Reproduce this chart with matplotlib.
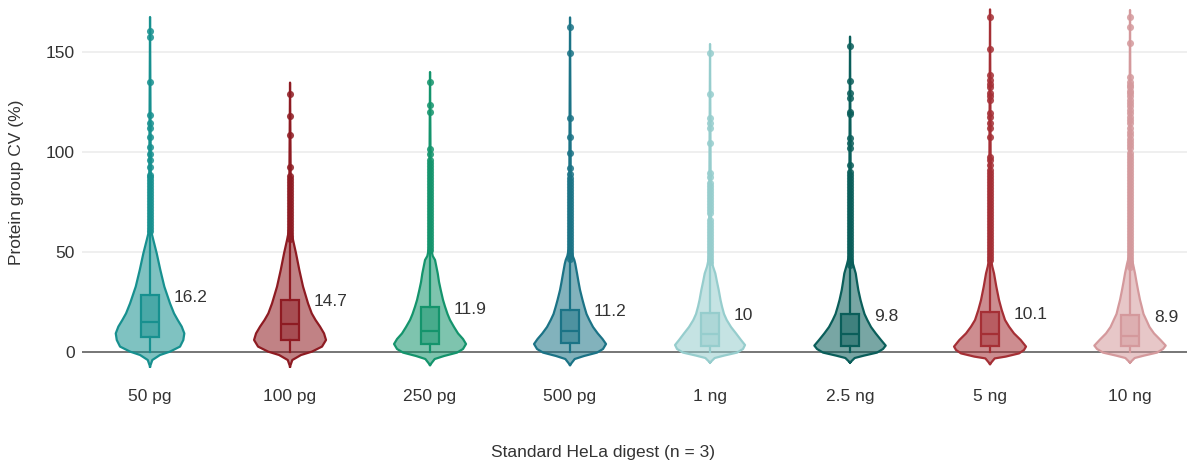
import matplotlib
matplotlib.use("Agg")
import matplotlib.pyplot as plt
import numpy as np
from matplotlib.colors import to_rgba

plt.rcParams['font.family'] = ['Liberation Sans', 'DejaVu Sans']

# categories and per-group summary values
categories = ['50 pg', '100 pg', '250 pg', '500 pg', '1 ng', '2.5 ng', '5 ng', '10 ng']
median_labels = ['16.2', '14.7', '11.9', '11.2', '10', '9.8', '10.1', '8.9']
colors = ['#17908f', '#8e1b22', '#14946c', '#1b7386', '#96cdcd', '#0a5e5a', '#a52f35', '#d4999c']

q1 = [7.5, 6.0, 4.0, 4.3, 3.0, 3.0, 3.2, 3.2]
medians = [15.0, 14.0, 10.5, 10.5, 9.0, 9.0, 9.0, 8.2]
q3 = [28.5, 26.0, 22.3, 21.0, 19.3, 18.8, 19.8, 18.5]
whisker_low = [0.0, 0.0, 0.0, 0.0, 0.0, 0.0, 0.0, 0.0]
whisker_high = [60.0, 56.0, 50.0, 46.0, 44.0, 42.5, 44.7, 41.5]

# violin outline: CV levels and density (arbitrary units) at each level
violin_levels = [
    [-7.3, -4, -1.5, 0.2, 2.7, 6, 9.3, 12.7, 16, 19.3, 24.3, 32.7, 41, 49.3, 56, 59.3, 62, 167.5],
    [-7.3, -4, -1.5, 0.2, 2.7, 6, 9.3, 12.7, 16, 19.3, 24.3, 32.7, 41, 49.3, 56, 59.3, 62, 134.7],
    [-6.5, -3.5, -2.0, -0.3, 1.5, 4.0, 6.5, 9.3, 12.5, 16, 19, 22.7, 26, 31, 35, 39.3, 46, 48, 52, 140],
    [-6.5, -3.5, -2.0, -0.3, 1.5, 4.0, 6.5, 9.3, 12.5, 16, 19, 22.7, 26, 31, 35, 39.3, 44, 46, 48, 52, 167.3],
    [-5.3, -3, -1.8, -0.3, 1.5, 3.5, 6, 9.3, 12.5, 16, 19, 22.7, 26, 31, 35, 39.3, 42.7, 45, 48, 154],
    [-5.3, -3, -1.8, -0.3, 1.5, 3.2, 6, 9.3, 12.5, 16, 19, 22.7, 26, 31, 35, 39.3, 44, 46, 48, 157.7],
    [-6, -3.2, -2.3, -0.7, 1.0, 2.7, 6, 9.3, 12.7, 16, 21, 26, 32.7, 39.3, 42.7, 45, 48, 171.3],
    [-5.3, -3, -1.8, -0.3, 1.5, 3.2, 6, 9.3, 12.5, 16, 19, 22.7, 26, 31, 35, 39.3, 44, 46, 48, 171],
]
violin_density = [
    [0, 2.3, 10, 20, 30, 33.3, 34.3, 31.7, 27.7, 24, 20, 14.3, 10.3, 6.7, 3.3, 1.7, 1, 0],
    [0, 2.3, 11, 22, 32, 36, 34, 30, 25.5, 21.7, 18, 13, 9.3, 6, 3, 1.7, 1, 0],
    [0, 4.7, 14, 27, 33, 36, 33, 28, 24, 20, 17.5, 15, 13, 10.7, 9, 7.7, 5, 2.7, 1, 0],
    [0, 4.7, 14, 27, 33, 36, 32.5, 27.7, 23, 19.3, 16.5, 14.3, 12.5, 10, 8.5, 7, 5.3, 4.3, 2.7, 1, 0],
    [0, 4.7, 14, 27, 33, 35, 31, 26, 21, 16.7, 14, 12, 10.5, 8.7, 7, 5.3, 3, 2, 1, 0],
    [0, 4.7, 14, 27, 33, 35.7, 31, 25.7, 21, 17.3, 14.5, 12.3, 10.5, 8.3, 7, 5.7, 3, 2, 1, 0],
    [0, 4.7, 15.7, 29, 34, 36, 30.7, 24, 19, 15, 11.7, 9, 6.3, 4, 2.3, 1.5, 1, 0],
    [0, 4.7, 14, 27, 33, 35.7, 30.5, 24, 19.5, 16.3, 13.5, 11.7, 10, 8, 6.5, 5, 3, 2, 1, 0],
]

# outlier CV values per group
outliers = [
    [160.5, 157.3, 135, 118.5, 114.7, 111.8, 107.7, 102.7, 99, 96, 92.7, 88.5,
     87.7, 86, 84.5, 83, 81.5, 80, 78.5, 77, 75.5, 74, 72.5, 71, 69.5, 68, 66.5,
     65, 63.5, 62, 60.5],
    [129, 118, 108.5, 92.5, 88, 86.5, 85, 83.5, 82, 80.5, 79, 77.5, 76, 74.5, 73,
     71.5, 70, 68.5, 67, 65.5, 64, 62.5, 61, 59.5, 58, 56.5],
    [135, 123.7, 120, 101.5, 99, 96, 94.5, 93, 91.5, 90, 88.5, 87, 85.5, 84, 82.5,
     81, 79.5, 78, 76.5, 75, 73.5, 72, 70.5, 69, 67.5, 66, 64.5, 63, 61.5, 60,
     58.5, 57, 55.5, 54, 52.5, 51],
    [162.3, 149.7, 117.2, 107.7, 99.3, 92.2, 89, 86.8, 85.5, 84, 82.5, 81, 79.5,
     78, 76.5, 75, 73.5, 72, 70.5, 69, 67.5, 66, 64.5, 63, 61.5, 60, 58.5, 57,
     55.5, 54, 52.5, 51, 49.5, 48, 46.5],
    [149.7, 128.8, 116.8, 114.3, 111.8, 104.7, 89.3, 87.7, 84.3, 83, 81.5, 80,
     78.5, 77, 75.5, 74, 72.5, 71, 69.5, 66, 64.5, 63, 61.5, 60, 58.5, 57, 55.5,
     54, 52.5, 51, 49.5, 48, 46.5, 45],
    [153, 135.5, 129.7, 126.8, 120.2, 119, 106.8, 104.7, 101.8, 93.5, 90.2, 88.5,
     87, 85.5, 84, 82.5, 81, 79.5, 78, 76.5, 75, 73.5, 72, 70.5, 69, 67.5, 66,
     64.5, 63, 61.5, 60, 58.5, 57, 55.5, 54, 52.5, 51, 49.5, 48, 46.5, 45, 43.5],
    [167.3, 151.5, 138.5, 136, 134, 132.3, 129.7, 128, 126, 119.3, 117.3, 114.3,
     111.8, 107.7, 97.7, 96, 93.5, 91, 89.5, 88, 86.5, 85, 83.5, 82, 80.5, 79,
     77.5, 76, 74.5, 73, 71.5, 70, 68.5, 67, 65.5, 64, 62.5, 61, 59.5, 58, 56.5,
     55, 53.5, 52, 50.5, 49, 47.5, 46],
    [167.3, 162.7, 154.3, 137.7, 135, 133.5, 132.3, 130.5, 129.3, 128, 126, 124.5,
     123, 121, 119.5, 117.7, 116, 114.5, 111.8, 110, 108.5, 106.5, 105, 103.5,
     101.8, 99.3, 97.8, 96.3, 94.8, 93.3, 91.8, 90.3, 88.8, 87.3, 85.8, 84.3,
     82.8, 81.3, 79.8, 78.3, 76.8, 75.3, 73.8, 72.3, 70.8, 69.3, 67.8, 66.3,
     64.8, 63.3, 61.8, 60.3, 58.8, 57.3, 55.8, 54.3, 52.8, 51.3, 49.8, 48.3,
     46.8, 45.3, 43.8, 42.3],
]

text_color = '#333333'
half_max = 0.257
dens_max = max(max(d) for d in violin_density)

fig = plt.figure(figsize=(11.87, 4.66), dpi=100)
ax = fig.add_axes([82 / 1187, 94 / 466, 1105 / 1187, 372 / 466])
ax.set_xlim(-0.486, 7.407)
ax.set_ylim(-10, 176)

for y in (50, 100, 150):
    ax.axhline(y, color='#ececec', lw=1.2, zorder=0)
ax.axhline(0, color='#6b6b6b', lw=1.3, zorder=1)

for i, c in enumerate(colors):
    lv = np.array(violin_levels[i])
    hw = np.array(violin_density[i]) / dens_max * half_max
    ax.fill_betweenx(lv, i - hw, i + hw, facecolor=c, alpha=0.55, lw=0, zorder=2)
    ax.plot(np.r_[i - hw, (i + hw)[::-1], i - hw[0]],
            np.r_[lv, lv[::-1], lv[0]],
            color=c, lw=1.6, solid_joinstyle='round', zorder=3)

    stats = [dict(med=medians[i], q1=q1[i], q3=q3[i],
                  whislo=whisker_low[i], whishi=whisker_high[i], fliers=[])]
    ax.bxp(stats, positions=[i], widths=0.13, patch_artist=True,
           showcaps=False, showfliers=False, manage_ticks=False,
           boxprops=dict(facecolor=to_rgba(c, 0.5), edgecolor=c, lw=1.6),
           medianprops=dict(color=c, lw=1.6),
           whiskerprops=dict(color=c, lw=1.6), zorder=3)

    out = outliers[i]
    ax.scatter(np.full(len(out), i), out, s=26, color=c, alpha=0.85,
               lw=0, zorder=4)

    ax.text(i + 0.17, q3[i] - 1, median_labels[i], ha='left', va='center',
            fontsize=12.5, color=text_color)

ax.set_xticks(range(len(categories)), categories)
ax.set_yticks([0, 50, 100, 150])
ax.tick_params(axis='both', length=0, labelsize=12.5, labelcolor=text_color)
ax.tick_params(axis='x', pad=12)
ax.tick_params(axis='y', pad=5)
for s in ax.spines.values():
    s.set_visible(False)

fig.text(17 / 1187, 1 - 182 / 466, 'Protein group CV (%)', rotation=90,
         ha='center', va='center', fontsize=12.5, color=text_color)
fig.text(603 / 1187, 1 - 452 / 466, 'Standard HeLa digest (n = 3)',
         ha='center', va='center', fontsize=12.5, color=text_color)

fig.savefig('out.png', dpi=100)
